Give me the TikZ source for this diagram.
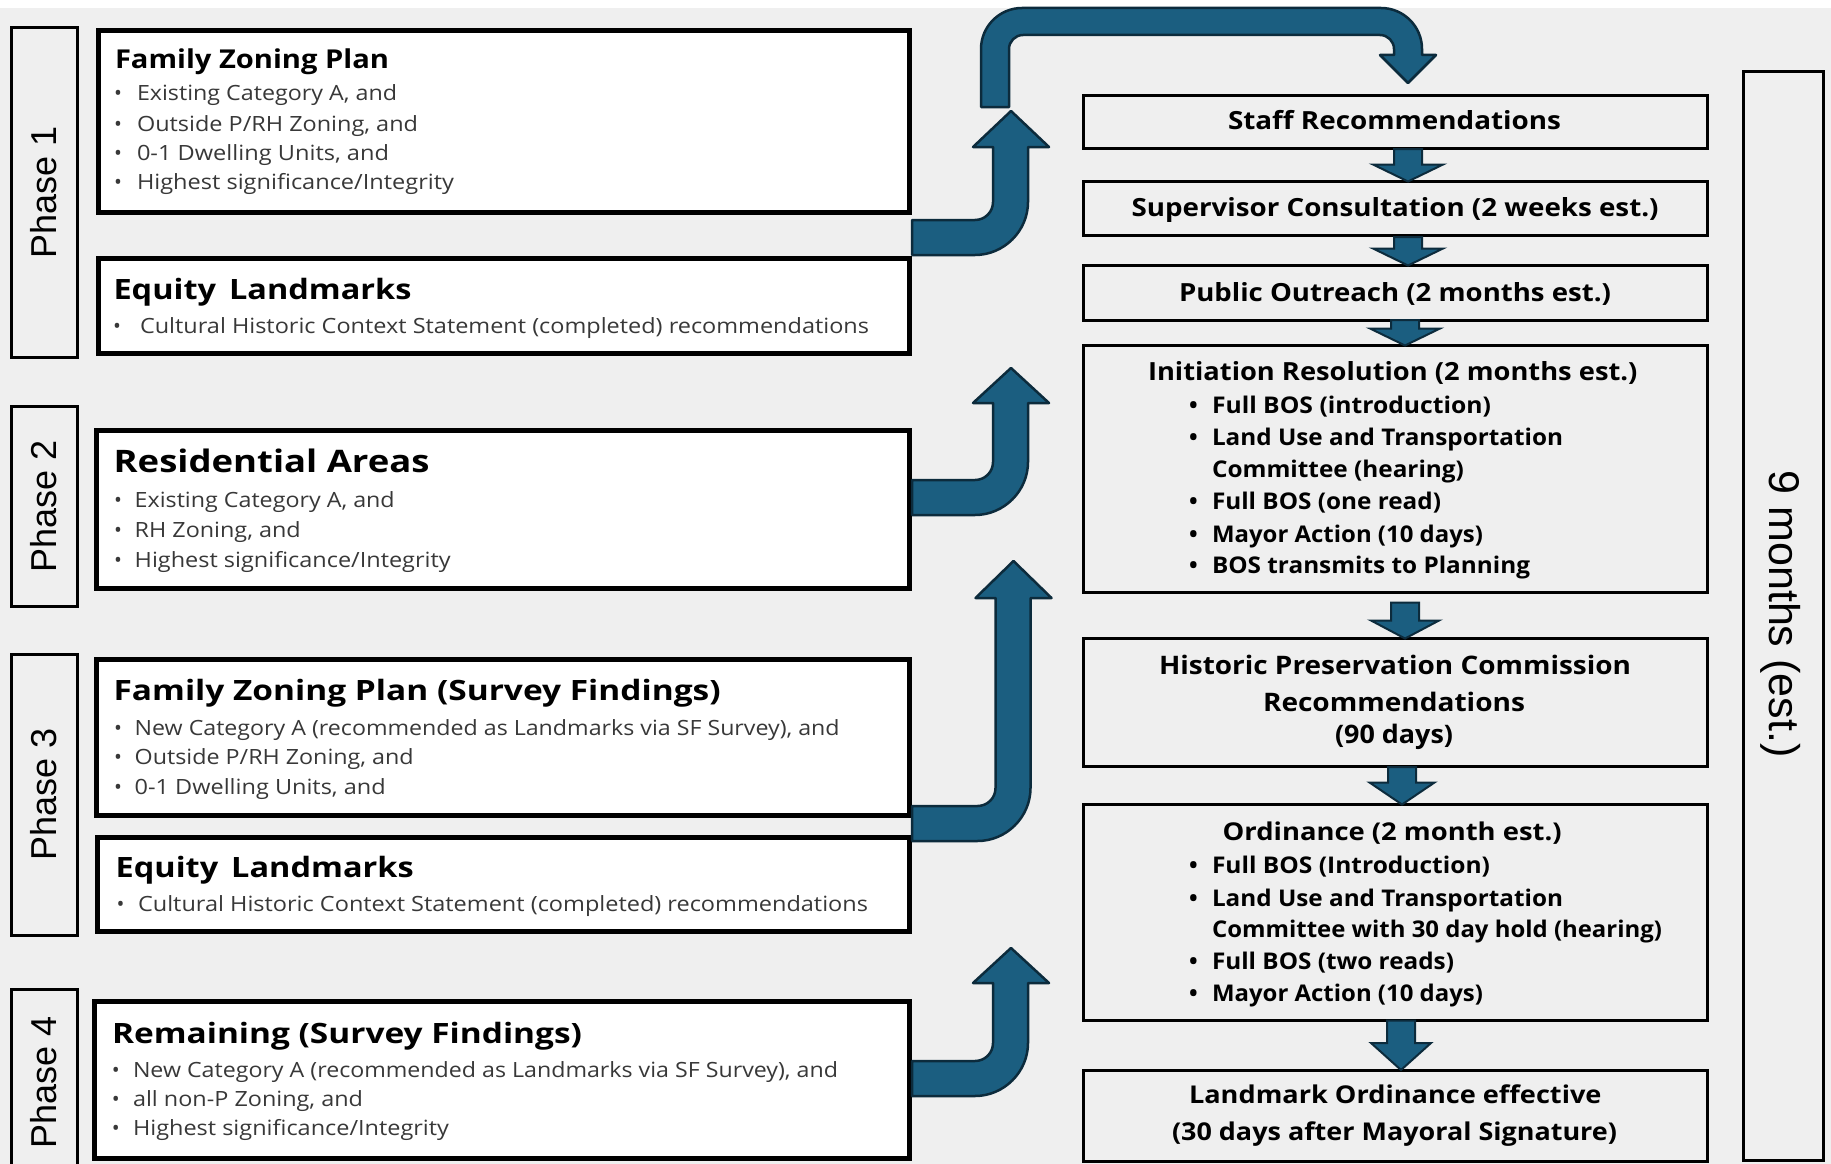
\documentclass[tikz,border=0pt]{standalone}
\usepackage{fontspec}
\setmainfont{Open Sans}
\newfontfamily\arialf{Liberation Sans}
\usetikzlibrary{calc}
\definecolor{bgc}{HTML}{EFEFEF}
\definecolor{arrfill}{HTML}{1B5E80}
\definecolor{arrline}{HTML}{0C2B3C}
\definecolor{bultxt}{HTML}{383838}
\newcommand\fitw[2]{\resizebox{#1pt}{\height}{#2}}
\newcommand\fsz[1]{\fontsize{#1}{#1}\selectfont}
\tikzset{
 phasebox/.style={draw=black, line width=3pt, fill=bgc, minimum width=66pt, inner sep=0pt, outer sep=0pt},
 leftbox/.style={draw=black, line width=5pt, fill=white, inner sep=0pt, outer sep=0pt},
 rightbox/.style={draw=black, line width=3pt, fill=bgc, minimum width=624pt, inner sep=0pt, outer sep=0pt},
 lhead/.style={anchor=base west, inner sep=0pt, outer sep=0pt, text=black, font=\fsz{#1}\bfseries},
 lbul/.style={anchor=base west, inner sep=0pt, outer sep=0pt, text=bultxt, font=\fsz{21}},
 ldot/.style={anchor=base, inner sep=0pt, outer sep=0pt, text=bultxt, font=\fsz{21}},
 rtitle/.style={anchor=base west, inner sep=0pt, outer sep=0pt, text=black, font=\fsz{#1}\bfseries},
 rbul/.style={anchor=base west, inner sep=0pt, outer sep=0pt, text=black, font=\fsz{23}\bfseries},
 rdot/.style={anchor=base, inner sep=0pt, outer sep=0pt, text=black, font=\fsz{23}\bfseries},
 phasetext/.style={font=\arialf\fsz{36}, text=black, inner sep=0pt},
 bigarrow/.style={fill=arrfill, draw=arrline, line width=2.5pt, line join=round},
 smallarrow/.style={fill=arrfill, draw=arrline, line width=2pt, line join=miter},
}
% bullet line helpers
\newcommand\lbl[6]{\node[ldot] (#1d) at (#2,#4) {•}; \node[lbul] (#1) at (#3,#4) {\fitw{#5}{#6}};}
\newcommand\rbl[6]{\node[rdot] (#1d) at (#2,#4) {•}; \node[rbul] (#1) at (#3,#4) {\fitw{#5}{#6}};}
% small block arrow between two right boxes: src, tgt, x-coordinate, gap, head height, head half width
\newcommand\blockdown[6]{%
 \path[smallarrow] ($(#3 |- #1.south)+(-14,#4)$) -- ($(#3 |- #1.south)+(14,#4)$)
  -- ($(#3 |- #2.north)+(14,-#5)$) -- ($(#3 |- #2.north)+(#6,-#5)$) -- (#3 |- #2.north)
  -- ($(#3 |- #2.north)+(-#6,-#5)$) -- ($(#3 |- #2.north)+(-14,-#5)$) -- cycle;}
% bent-up block arrow from a left box: src, band top y, head base y, tip name, tip y, dx
\newcommand\upturn[6]{%
 \coordinate (#4) at ({1011+#6},#5);
 \coordinate (utA) at (0,#2);
 \coordinate (utB) at (0,{#2+35});
 \path[bigarrow] ($(#1.east |- utA)+(2.5,0)$) -- ({975+#6},#2)
  .. controls ({985+#6},#2) and ({993+#6},{#2-8}) .. ({993+#6},{#2-18})
  -- ({993+#6},#3) -- ({973+#6},#3) -- (#4) -- ({1049+#6},#3) -- ({1028+#6},#3)
  -- ({1028+#6},{#2+35-53})
  .. controls ({1028+#6},{#2+35-24}) and ({1004+#6},{#2+35}) .. ({975+#6},{#2+35})
  -- ($(#1.east |- utB)+(2.5,0)$) -- cycle;}
\begin{document}
\begin{tikzpicture}[x=1pt,y=-1pt]
\useasboundingbox (0,0) rectangle (1831,1164);
\clip (0,0) rectangle (1831,1164);
\fill[white] (0,0) rectangle (1831,8);
\fill[bgc] (0,8) rectangle (1831,1164);

% ---------- phase labels ----------
\node[phasebox, minimum height=330pt] (ph1) at (44,192.5) {};
\node[phasetext, rotate=90] (ph1t) at (ph1) {Phase 1};
\node[phasebox, minimum height=200pt] (ph2) at (44,506) {};
\node[phasetext, rotate=90] (ph2t) at (ph2) {Phase 2};
\node[phasebox, minimum height=281pt] (ph3) at (44,794.5) {};
\node[phasetext, rotate=90] (ph3t) at (ph3) {Phase 3};
\node[phasebox, minimum height=185pt] (ph4) at (44,1082) {};
\node[phasetext, rotate=90] (ph4t) at (ph4) {Phase 4};

% ---------- left boxes ----------
\node[leftbox, minimum width=811.5pt, minimum height=181pt] (fzp) at (503.75,121.5) {};
\node[leftbox, minimum width=811.5pt, minimum height=95pt] (eq1) at (503.75,305.5) {};
\node[leftbox, minimum width=813.5pt, minimum height=158.5pt] (res) at (502.75,509.25) {};
\node[leftbox, minimum width=813.5pt, minimum height=156pt] (fzs) at (502.75,737) {};
\node[leftbox, minimum width=812.5pt, minimum height=93.5pt] (eq2) at (503.25,884.25) {};
\node[leftbox, minimum width=815.5pt, minimum height=157pt] (rem) at (501.75,1079.5) {};

\node[lhead=26] (fzpH) at (115,69) {\fitw{274}{Family Zoning Plan}};
\lbl{fzpB1}{118}{137}{100}{260}{Existing Category A, and}
\lbl{fzpB2}{118}{137}{131}{281}{Outside P/RH Zoning, and}
\lbl{fzpB3}{118}{137}{160}{252}{0-1 Dwelling Units, and}
\lbl{fzpB4}{118}{137}{189}{317}{Highest significance/Integrity}

\node[lhead=28] (eq1H) at (113.5,299) {\fitw{298}{Equity\hspace{0.4em}Landmarks}};
\lbl{eq1B1}{117}{140}{333}{729}{Cultural Historic Context Statement (completed) recommendations}

\node[lhead=31] (resH) at (113.6,472) {\fitw{316}{Residential Areas}};
\lbl{resB1}{118}{134.7}{507}{260}{Existing Category A, and}
\lbl{resB2}{118}{134.7}{537}{166}{RH Zoning, and}
\lbl{resB3}{118}{134.7}{567}{316}{Highest significance/Integrity}

\node[lhead=28] (fzsH) at (113.6,700) {\fitw{607}{Family Zoning Plan (Survey Findings)}};
\lbl{fzsB1}{118}{134.7}{735}{705}{New Category A (recommended as Landmarks via SF Survey), and}
\lbl{fzsB2}{118}{134.7}{764}{279}{Outside P/RH Zoning, and}
\lbl{fzsB3}{118}{134.7}{794}{251}{0-1 Dwelling Units, and}

\node[lhead=28] (eq2H) at (115.7,877.5) {\fitw{298}{Equity\hspace{0.4em}Landmarks}};
\lbl{eq2B1}{120.5}{138}{911}{730}{Cultural Historic Context Statement (completed) recommendations}

\node[lhead=28] (remH) at (112,1043) {\fitw{470}{Remaining (Survey Findings)}};
\lbl{remB1}{115.7}{133}{1077}{705}{New Category A (recommended as Landmarks via SF Survey), and}
\lbl{remB2}{115.7}{133}{1106}{230}{all non-P Zoning, and}
\lbl{remB3}{115.7}{133}{1135}{316}{Highest significance/Integrity}

% ---------- right boxes ----------
\node[rightbox, minimum height=53pt] (staff) at (1395,121.5) {};
\node[rightbox, minimum height=54pt] (sup) at (1395,208.5) {};
\node[rightbox, minimum height=54.5pt] (pub) at (1395,292.75) {};
\node[rightbox, minimum height=247pt] (ini) at (1395,469) {};
\node[rightbox, minimum height=128pt] (hpc) at (1395,702.5) {};
\node[rightbox, minimum height=216pt] (ord) at (1395,912.5) {};
\node[rightbox, minimum height=91.5pt] (lmk) at (1395,1115.75) {};

\node[phasebox, minimum width=79.5pt, minimum height=1088pt] (nine) at (1783.25,616) {};
\node[phasetext, font=\arialf\fsz{43}, rotate=-90] (ninet) at (1781,614) {9 months (est.)};

\node[rtitle=25] (staffT) at (1228,129) {\fitw{333}{Staff Recommendations}};
\node[rtitle=25] (supT) at (1131.6,216.7) {\fitw{527}{Supervisor Consultation (2 weeks est.)}};
\node[rtitle=25] (pubT) at (1179,301.7) {\fitw{432}{Public Outreach (2 months est.)}};
\node[rtitle=25] (iniT) at (1148,380) {\fitw{489.5}{Initiation Resolution (2 months est.)}};
\rbl{iniB1}{1193.4}{1212}{413}{279}{Full BOS (introduction)}
\rbl{iniB2}{1193.4}{1212}{445}{351}{Land Use and Transportation}
\node[rbul] (iniB2b) at (1212,477) {\fitw{252}{Committee (hearing)}};
\rbl{iniB3}{1193.4}{1212}{509}{229}{Full BOS (one read)}
\rbl{iniB4}{1193.4}{1212}{542}{271}{Mayor Action (10 days)}
\rbl{iniB5}{1193.4}{1212}{573}{318}{BOS transmits to Planning}

\node[rtitle=25.5] (hpcT1) at (1159,674) {\fitw{472}{Historic Preservation Commission}};
\node[rtitle=25.5] (hpcT2) at (1263,711) {\fitw{262}{Recommendations}};
\node[rtitle=25.5] (hpcT3) at (1335,743) {\fitw{118}{(90 days)}};

\node[rtitle=24.5] (ordT) at (1222.6,840) {\fitw{339}{Ordinance (2 month est.)}};
\rbl{ordB1}{1193.4}{1212}{873}{278}{Full BOS (Introduction)}
\rbl{ordB2}{1193.4}{1212}{906}{351}{Land Use and Transportation}
\node[rbul] (ordB2b) at (1212,937) {\fitw{450}{Committee with 30 day hold (hearing)}};
\rbl{ordB3}{1193.4}{1212}{969}{242}{Full BOS (two reads)}
\rbl{ordB4}{1193.4}{1212}{1001}{271}{Mayor Action (10 days)}

\node[rtitle=24.5] (lmkT1) at (1189,1103) {\fitw{412.5}{Landmark Ordinance effective}};
\node[rtitle=24.5] (lmkT2) at (1172,1140) {\fitw{445}{(30 days after Mayoral Signature)}};

% ---------- small arrows between right boxes ----------
\coordinate (ax1) at (1408,0);
\coordinate (ax2) at (1408,0);
\coordinate (ax3) at (1405,0);
\coordinate (ax4) at (1405,0);
\coordinate (ax5) at (1402,0);
\coordinate (ax6) at (1401,0);
\blockdown{staff}{sup}{ax1}{1}{17}{35}
\blockdown{sup}{pub}{ax2}{1.5}{17}{35}
\blockdown{pub}{ini}{ax3}{0}{17}{35}
\blockdown{ini}{hpc}{ax4}{10}{18}{34}
\blockdown{hpc}{ord}{ax5}{0.5}{22}{32.5}
\blockdown{ord}{lmk}{ax6}{0}{27}{30}

% ---------- bent-up arrows from the phases ----------
\upturn{fzp}{220}{147}{tip1}{111}{0}
\upturn{res}{480}{403}{tip2}{368}{0}
\upturn{fzs}{806}{598}{tip3}{561}{2.5}
\upturn{rem}{1061}{983}{tip4}{948}{0}

% ---------- top arrow into Staff Recommendations ----------
\coordinate (topstart) at (995,107);
\coordinate (toptip) at ($(staff.north)+(13,-12)$);
\path[bigarrow] (981,107) -- (981,49) .. controls (981,26.4) and (999.4,8) .. (1022,8)
  -- (1381,8) .. controls (1403.6,8) and (1422,26.4) .. (1422,49)
  -- (1422,55) -- (1436,55) -- (toptip) -- (1380,55) -- (1394,55)
  -- (1394,49) .. controls (1394,41.3) and (1387.7,35) .. (1380,35)
  -- (1023,35) .. controls (1015.3,35) and (1009,41.3) .. (1009,49)
  -- (1009,107) -- cycle;
\end{tikzpicture}
\end{document}
